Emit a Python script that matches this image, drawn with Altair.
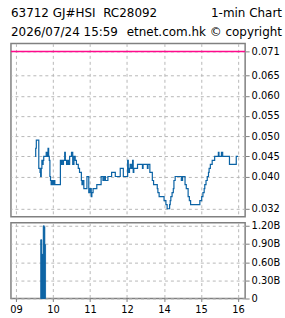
import altair as alt
import pandas as pd

TITLE_LEFT = ["63712 GJ#HSI\u00a0 RC28092", "2026/07/24 15:59"]
TITLE_RIGHT = ["1-min Chart", "etnet.com.hk \u00a9 copyright"]

PRICE_TIMES = [
    "09:31", "09:32", "09:33", "09:37", "09:39", "09:40", "09:41", "09:42", "09:43", "09:44",
    "09:45", "09:49", "09:51", "09:52", "09:53", "09:54", "09:55", "09:56", "09:57", "09:58",
    "09:59", "10:00", "10:01", "10:02", "10:03", "10:12", "10:13", "10:14", "10:16", "10:17",
    "10:19", "10:20", "10:22", "10:24", "10:25", "10:27", "10:30", "10:32", "10:34", "10:36",
    "10:38", "10:41", "10:43", "10:46", "10:47", "10:48", "10:50", "10:55", "10:58", "11:00",
    "11:02", "11:03", "11:05", "11:11", "11:18", "11:21", "11:23", "11:25", "11:29", "11:35",
    "11:41", "11:49", "11:54", "13:01", "13:02", "13:03", "13:04", "13:05", "13:07", "13:09",
    "13:10", "13:11", "13:17", "13:25", "13:26", "13:33", "13:34", "13:37", "13:41", "13:43",
    "13:49", "13:50", "13:52", "14:00", "14:03", "14:05", "14:09", "14:10", "14:11", "14:13",
    "14:15", "14:16", "14:18", "14:28", "14:30", "14:34", "14:36", "14:39", "14:41", "14:43",
    "14:58", "15:01", "15:03", "15:05", "15:06", "15:08", "15:10", "15:12", "15:13", "15:15",
    "15:18", "15:22", "15:28", "15:29", "15:33", "15:35", "15:46", "15:57", "16:00",
]
PRICE_VALUES = [
    0.045, 0.047, 0.049, 0.042, 0.041, 0.040, 0.042, 0.044, 0.043, 0.044,
    0.045, 0.046, 0.045, 0.047, 0.045, 0.044, 0.040, 0.039, 0.038, 0.039,
    0.038, 0.039, 0.038, 0.039, 0.038, 0.044, 0.043, 0.044, 0.043, 0.044,
    0.046, 0.044, 0.043, 0.044, 0.043, 0.045, 0.046, 0.043, 0.045, 0.044,
    0.043, 0.042, 0.041, 0.039, 0.038, 0.039, 0.037, 0.040, 0.036, 0.037,
    0.035, 0.036, 0.037, 0.038, 0.040, 0.039, 0.040, 0.039, 0.040, 0.041,
    0.040, 0.042, 0.040, 0.044, 0.042, 0.041, 0.042, 0.043, 0.042, 0.044,
    0.041, 0.042, 0.043, 0.042, 0.043, 0.042, 0.043, 0.041, 0.039, 0.038,
    0.037, 0.036, 0.035, 0.034, 0.033, 0.032, 0.033, 0.034, 0.035, 0.036,
    0.037, 0.039, 0.040, 0.039, 0.040, 0.038, 0.037, 0.035, 0.034, 0.033,
    0.034, 0.035, 0.036, 0.037, 0.038, 0.039, 0.040, 0.041, 0.042, 0.043,
    0.044, 0.045, 0.046, 0.045, 0.046, 0.045, 0.043, 0.045, 0.045,
]

VOL_TIMES = ["09:40", "09:41", "09:42", "09:43", "09:44", "09:45", "09:46", "09:47"]
VOL_VALUES = [0.97, 0.97, 0.73, 0.73, 1.20, 1.20, 1.18, 0.89]  # billions

LIMIT_PRICE = [0.071]
PRICE_TICKS = [0.032, 0.040, 0.045, 0.050, 0.055, 0.060, 0.065, 0.071]
VOL_TICKS = [0, 0.3, 0.6, 0.9, 1.2]
HOUR_POS = [0, 1, 2, 3, 4, 5, 6]
HOUR_LABELS = ["09", "10", "11", "12", "14", "15", "16"]

BLUE = "#0b63a5"
PINK = "#ff0a8c"
GRID = "#b8b8b8"
FONT = "Liberation Sans Narrow, DejaVu Sans Condensed, Liberation Sans"
HFONT = "DejaVu Sans"


def trading_pos(t):
    h, m = map(int, t.split(":"))
    mins = h * 60 + m
    return (mins - 540) / 60 if mins <= 720 else (mins - 600) / 60


price_df = pd.DataFrame({"time": PRICE_TIMES, "price": PRICE_VALUES})
price_df["pos"] = price_df["time"].map(trading_pos)

vol_df = pd.DataFrame({"time": VOL_TIMES, "vol": VOL_VALUES})
vol_df["pos"] = vol_df["time"].map(trading_pos)
vol_df["pos2"] = vol_df["pos"] + 1 / 60

limit_df = pd.DataFrame({"price": LIMIT_PRICE})

X_DOMAIN = [-0.135, 6.19]
Y_DOMAIN = [0.030, 0.073]
hour_expr = "[" + ",".join("'%s'" % s for s in HOUR_LABELS) + "][datum.value]"

x_top = alt.X(
    "pos:Q",
    scale=alt.Scale(domain=X_DOMAIN, nice=False, zero=False),
    axis=alt.Axis(values=HOUR_POS, labels=False, ticks=False, domain=False,
                  title=None, grid=True, gridDash=[3, 3], gridColor=GRID),
)

price_axis = alt.Axis(orient="right", values=PRICE_TICKS, format=".3f", title=None,
                      domain=False, tickSize=4, tickColor="#808080", labelPadding=2,
                      labelOverlap=False,
                      grid=True, gridDash=[3, 3], gridColor=GRID)

y_price = alt.Y("price:Q", scale=alt.Scale(domain=Y_DOMAIN, nice=False, zero=False),
                axis=price_axis)

line = alt.Chart(price_df).mark_line(
    interpolate="step-after", color=BLUE, strokeWidth=1.2
).encode(x=x_top, y=y_price)

limit = alt.Chart(limit_df).mark_rule(color=PINK, strokeWidth=1.5).encode(y=y_price)

texts = []
for i, s in enumerate(TITLE_LEFT):
    texts.append(
        alt.Chart(pd.DataFrame({"t": [s]})).mark_text(
            align="left", baseline="alphabetic", font=HFONT, fontSize=12, color="#000"
        ).encode(text="t:N", x=alt.value(0), y=alt.value(-26 + 19 * i))
    )
for i, s in enumerate(TITLE_RIGHT):
    texts.append(
        alt.Chart(pd.DataFrame({"t": [s]})).mark_text(
            align="right", baseline="alphabetic", font=HFONT, fontSize=12, color="#000"
        ).encode(text="t:N", x=alt.value(272), y=alt.value(-26 + 19 * i))
    )

top = alt.layer(line, limit, *texts).properties(width=235, height=174)

bars = alt.Chart(vol_df).mark_rect(color=BLUE, stroke=BLUE, strokeWidth=0.6).encode(
    x=alt.X(
        "pos:Q",
        scale=alt.Scale(domain=X_DOMAIN, nice=False, zero=False),
        axis=alt.Axis(values=HOUR_POS, labelExpr=hour_expr, title=None, domain=False,
                      tickSize=3, tickColor="#808080", labelPadding=2,
                      labelOverlap=False,
                      grid=True, gridDash=[3, 3], gridColor=GRID),
    ),
    x2="pos2:Q",
    y=alt.Y(
        "vol:Q",
        scale=alt.Scale(domain=[0, 1.25], nice=False),
        axis=alt.Axis(orient="right", values=VOL_TICKS, title=None, domain=False,
                      labelExpr="datum.value == 0 ? '0' : format(datum.value, '.2f') + 'B'",
                      tickSize=4, tickColor="#808080", labelPadding=2,
                      labelOverlap=False,
                      grid=True, gridDash=[3, 3], gridColor=GRID),
    ),
    y2=alt.datum(0),
)

bottom = bars.properties(width=235, height=76)

chart = alt.vconcat(top, bottom, spacing=6, bounds="flush").properties(
    padding={"left": 8, "top": 6, "right": 2, "bottom": 2},
    background="white",
).configure_view(
    stroke="#808080", strokeWidth=1.5
).configure_axis(
    labelFont=FONT, labelFontSize=11, labelColor="#000", labelOverlap=False
)

chart.save("out.html", embed_options={"renderer": "svg", "actions": False})
